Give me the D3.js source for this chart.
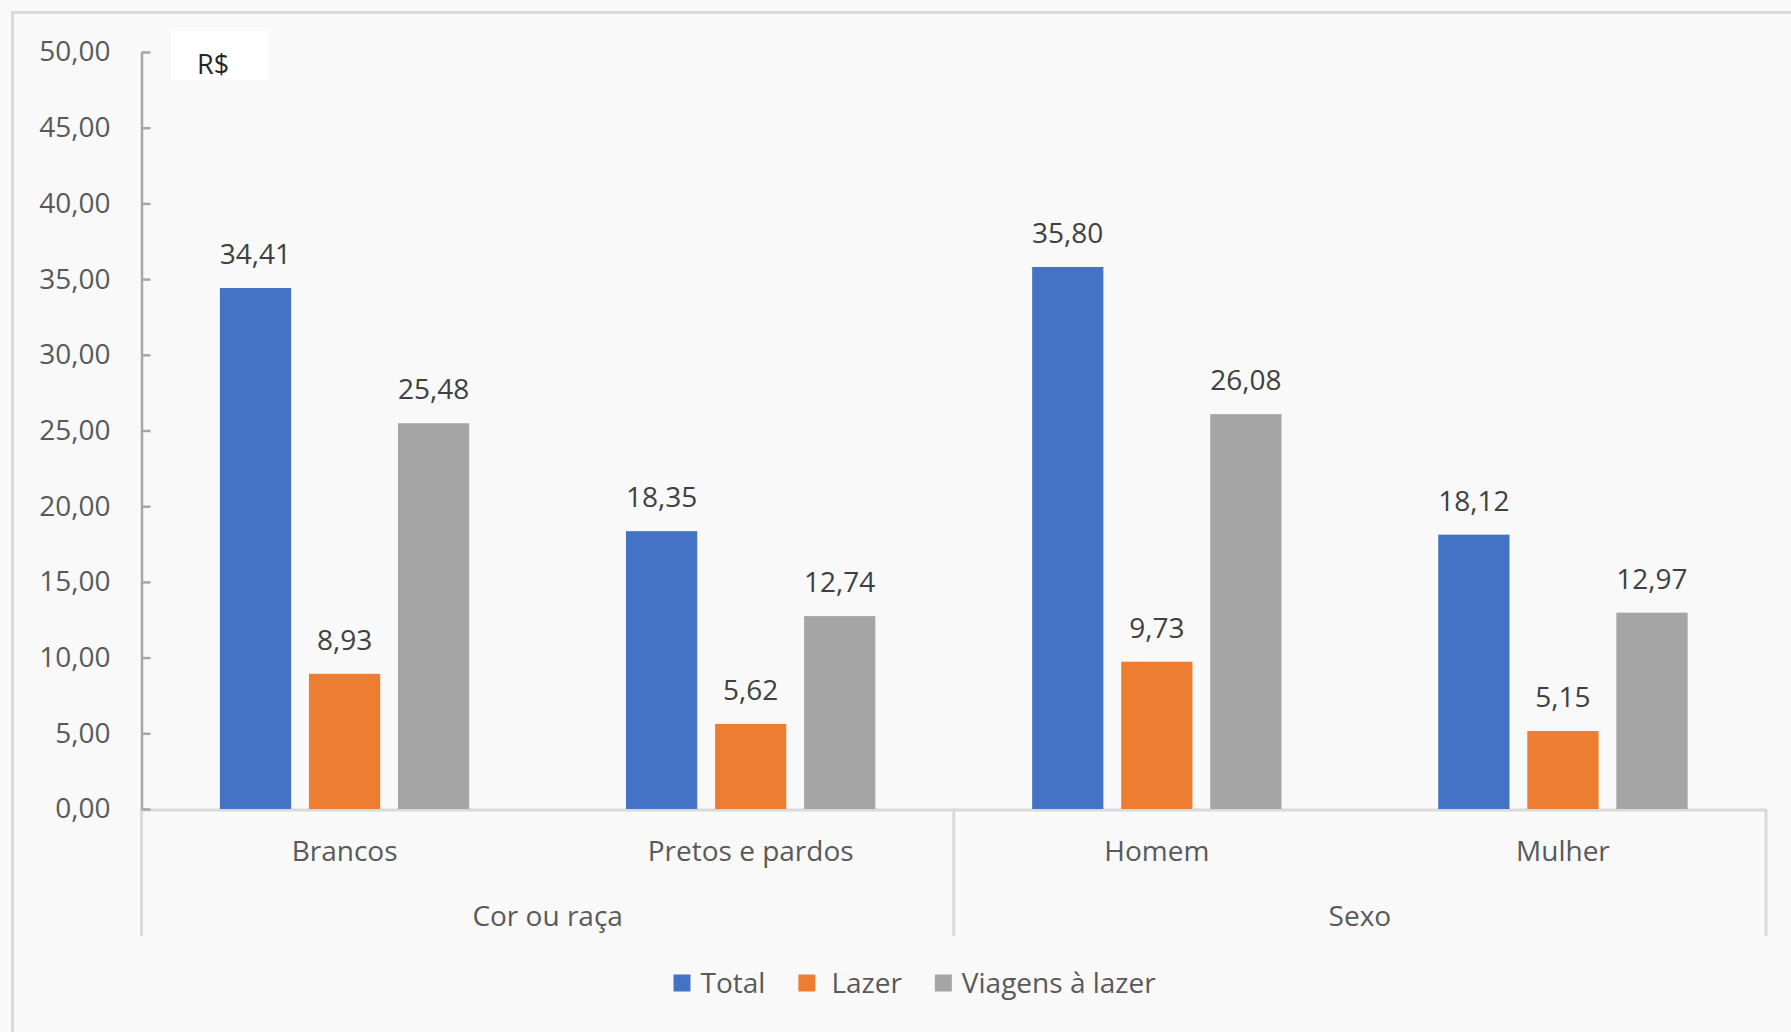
<!DOCTYPE html>
<html>
<head>
<meta charset="utf-8">
<script src="https://cdn.jsdelivr.net/npm/d3@7"></script>
<style>
  html, body { margin: 0; padding: 0; background: #f9f9f9; }
  svg { display: block; }
  text { font-family: "Open Sans", "Noto Sans", sans-serif; }
</style>
</head>
<body>
<svg id="chart" width="1791" height="1032"></svg>
<script>
// ---- data ----
const categories = ["Brancos", "Pretos e pardos", "Homem", "Mulher"];
const groups = ["Cor ou raça", "Sexo"];
const series = ["Total", "Lazer", "Viagens à lazer"];
const totalValues = [34.41, 18.35, 35.80, 18.12];
const lazerValues = [8.93, 5.62, 9.73, 5.15];
const viagensValues = [25.48, 12.74, 26.08, 12.97];
const yTickValues = [0, 5, 10, 15, 20, 25, 30, 35, 40, 45, 50];
const unitLabel = "R$";

const seriesValues = [totalValues, lazerValues, viagensValues];
const colors = ["#4472c4", "#ed7d31", "#a5a5a5"];

const ptBR = d3.formatLocale({decimal: ",", thousands: ".", grouping: [3], currency: ["R$", ""]});
const fmt = ptBR.format(".2f");

const svg = d3.select("#chart");
const W = 1791, H = 1032;

// background + frame
svg.append("rect").attr("x", 0).attr("y", 0).attr("width", W).attr("height", H).attr("fill", "#f9f9f9");
svg.append("rect").attr("x", 12.5).attr("y", 12.5).attr("width", W + 50).attr("height", H + 50)
  .attr("fill", "#f9f9f9").attr("stroke", "#d9d9d9").attr("stroke-width", 3);

const plotLeft = 141.5, plotRight = 1766, yTop = 52, yZero = 809;

const y = d3.scaleLinear().domain([0, 50]).range([yZero, yTop]);
const x0 = d3.scaleBand().domain(categories).range([plotLeft, plotRight]).paddingInner(0).paddingOuter(0);
const gx = d3.scaleBand().domain(groups).range([plotLeft, plotRight]);
const catW = x0.bandwidth();
const x1 = d3.scaleBand().domain(series).range([catW * 0.193, catW * 0.807]).paddingInner(0.2).paddingOuter(0);

// category axis lines (light)
const axisLight = "#d9d9d9";
svg.append("line").attr("x1", plotLeft).attr("x2", plotRight).attr("y1", yZero + 1).attr("y2", yZero + 1)
  .attr("stroke", axisLight).attr("stroke-width", 3);
const seps = [plotLeft, ...groups.slice(1).map(g => gx(g)), plotRight];
svg.selectAll(".sep").data(seps).join("line").attr("class", "sep")
  .attr("x1", d => d).attr("x2", d => d).attr("y1", yZero).attr("y2", 936)
  .attr("stroke", axisLight).attr("stroke-width", 3);

// y axis
const yAxis = d3.axisLeft(y).tickValues(yTickValues).tickFormat(d => fmt(d)).tickSize(-9).tickSizeOuter(0).tickPadding(31);
const ya = svg.append("g").attr("transform", `translate(${plotLeft},0)`).call(yAxis);
ya.select(".domain").attr("stroke", "#a6a6a6").attr("stroke-width", 2.5);
ya.selectAll(".tick line").attr("stroke", "#a6a6a6").attr("stroke-width", 2.5);
ya.selectAll(".tick text").attr("fill", "#595959").attr("font-size", 28).attr("font-family", "Open Sans");

// R$ box
svg.append("rect").attr("x", 171).attr("y", 31).attr("width", 97).attr("height", 49).attr("fill", "#ffffff");
svg.append("text").attr("x", 197).attr("y", 65).attr("dy", "0.35em").attr("font-size", 27)
  .attr("fill", "#262626").text(unitLabel);

// bars
const barData = [];
categories.forEach((c, i) => series.forEach((s, j) => barData.push({c, s, j, v: seriesValues[j][i]})));

svg.selectAll(".bar").data(barData).join("rect").attr("class", "bar")
  .attr("x", d => x0(d.c) + x1(d.s))
  .attr("y", d => y(d.v))
  .attr("width", x1.bandwidth())
  .attr("height", d => y(0) - y(d.v))
  .attr("fill", d => colors[d.j]);

svg.selectAll(".lbl").data(barData).join("text").attr("class", "lbl")
  .attr("x", d => x0(d.c) + x1(d.s) + x1.bandwidth() / 2)
  .attr("y", d => y(d.v) - 24)
  .attr("text-anchor", "middle").attr("font-size", 28).attr("fill", "#404040")
  .text(d => fmt(d.v));

// category labels
svg.selectAll(".cat").data(categories).join("text").attr("class", "cat")
  .attr("x", d => x0(d) + catW / 2).attr("y", 851).attr("dy", "0.35em")
  .attr("text-anchor", "middle").attr("font-size", 28).attr("fill", "#595959").text(d => d);
svg.selectAll(".grp").data(groups).join("text").attr("class", "grp")
  .attr("x", d => gx(d) + gx.bandwidth() / 2).attr("y", 916).attr("dy", "0.35em")
  .attr("text-anchor", "middle").attr("font-size", 28).attr("fill", "#595959").text(d => d);

// legend
const leg = svg.append("g");
let lx = 673.5;
const ly = 983;
series.forEach((s, j) => {
  leg.append("rect").attr("x", lx).attr("y", ly - 8.5).attr("width", 17).attr("height", 17).attr("fill", colors[j]);
  const t = leg.append("text").attr("x", lx + 17 + (j === 1 ? 16 : 10)).attr("y", ly).attr("dy", "0.35em")
    .attr("font-size", 28).attr("fill", "#595959").text(s);
  const w = t.node().getComputedTextLength();
  lx = lx + 17 + (j === 1 ? 16 : 10) + w + 33;
});
</script>
</body>
</html>
